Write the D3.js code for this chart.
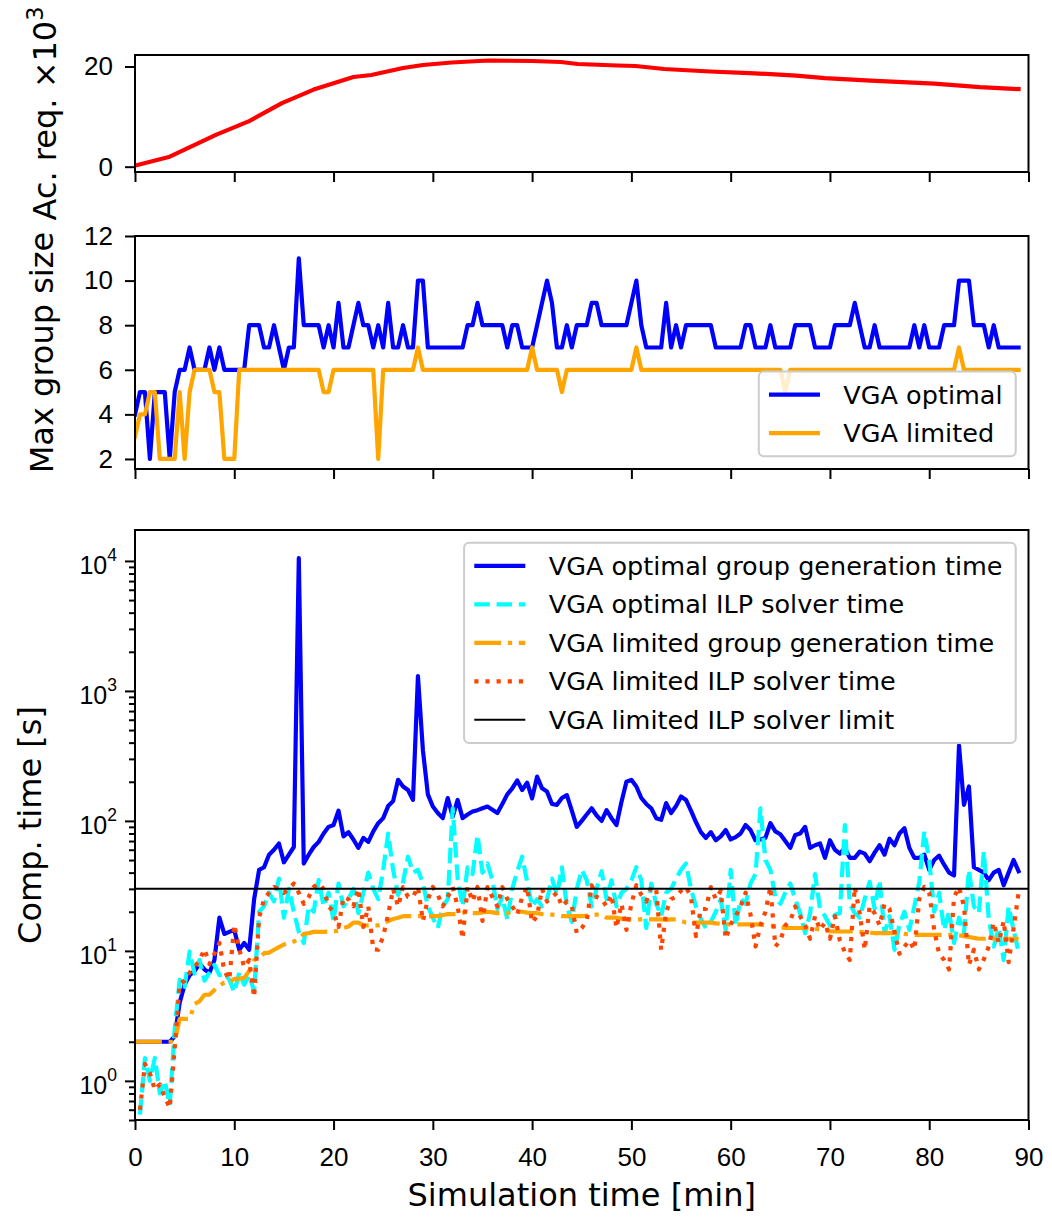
<!DOCTYPE html>
<html>
<head>
<meta charset="utf-8">
<script src="https://cdn.jsdelivr.net/npm/d3@7/dist/d3.min.js"></script>
<style>
    body { margin: 0; background: #fff; }
    svg { font-family: 'DejaVu Sans', sans-serif; }
</style>
</head>
<body>
<div class="chart-container"></div>
<script>
// data, one sample every STEP minutes starting at t = 0
const STEP = 0.5;

// accumulated requests x10^3 (smooth curve, fewer points)
const reqTime = [0, 3.5, 8.2, 11.5, 14.8, 18, 22, 23.8, 27, 29, 31.9, 35.6, 40, 42.9, 44.6,
    48.6, 50.4, 53.3, 57.9, 61.9, 66.6, 69.5, 74.1, 80.5, 85.1, 89];
const reqCount = [0.2, 2.0, 6.4, 9.1, 12.7, 15.4, 17.9, 18.3, 19.7, 20.3, 20.8, 21.2, 21.1, 20.9, 20.5,
    20.2, 20.1, 19.5, 19.0, 18.7, 18.2, 17.7, 17.2, 16.6, 15.9, 15.5];

// max group size
const optimalSize = [
    4, 5, 5, 2, 5, 5, 5, 2, 5, 6,
    6, 7, 6, 6, 6, 7, 6, 7, 6, 6,
    6, 6, 6, 8, 8, 8, 7, 7, 8, 7,
    6, 7, 7, 11, 8, 8, 8, 8, 7, 8,
    7, 9, 7, 7, 8, 9, 8, 8, 7, 8,
    7, 9, 7, 7, 8, 7, 7, 10, 10, 7,
    7, 7, 7, 7, 7, 7, 7, 8, 8, 9,
    8, 8, 8, 8, 8, 7, 8, 8, 7, 7,
    7, 8, 9, 10, 9, 7, 7, 8, 7, 8,
    8, 8, 9, 9, 8, 8, 8, 8, 8, 8,
    9, 10, 8, 7, 7, 7, 7, 9, 7, 8,
    7, 8, 8, 8, 8, 8, 8, 7, 7, 7,
    7, 7, 7, 8, 8, 7, 7, 7, 8, 7,
    7, 7, 7, 8, 8, 8, 8, 7, 7, 7,
    7, 8, 8, 8, 8, 9, 8, 7, 7, 8,
    7, 7, 7, 7, 7, 7, 7, 8, 7, 8,
    7, 7, 7, 8, 8, 8, 10, 10, 10, 8,
    8, 8, 7, 8, 7, 7, 7, 7, 7
];
const limitedSize = [
    3, 4, 4, 5, 5, 2, 2, 2, 2, 5,
    2, 5, 6, 6, 6, 6, 5, 5, 2, 2,
    2, 6, 6, 6, 6, 6, 6, 6, 6, 6,
    6, 6, 6, 6, 6, 6, 6, 6, 5, 5,
    6, 6, 6, 6, 6, 6, 6, 6, 6, 2,
    6, 6, 6, 6, 6, 6, 6, 7, 6, 6,
    6, 6, 6, 6, 6, 6, 6, 6, 6, 6,
    6, 6, 6, 6, 6, 6, 6, 6, 6, 6,
    7, 6, 6, 6, 6, 6, 5, 6, 6, 6,
    6, 6, 6, 6, 6, 6, 6, 6, 6, 6,
    6, 7, 6, 6, 6, 6, 6, 6, 6, 6,
    6, 6, 6, 6, 6, 6, 6, 6, 6, 6,
    6, 6, 6, 6, 6, 6, 6, 6, 6, 6,
    6, 5, 6, 6, 6, 6, 6, 6, 6, 6,
    6, 6, 6, 6, 6, 6, 6, 6, 6, 6,
    6, 6, 6, 6, 6, 6, 6, 6, 6, 6,
    6, 6, 6, 6, 6, 6, 7, 6, 6, 6,
    6, 6, 6, 6, 6, 6, 6, 6, 6
];

// computation times [s]
const optimalGen = [
    2, 2, 2, 2, 2, 2, 2, 2, 2.2, 4.0,
    5.5, 6.5, 7.0, 8.0, 7.2, 6.8, 8.5, 18, 13.5, 14,
    14.5, 10.2, 11.5, 10.2, 25, 42, 44, 55, 60, 67,
    48, 55, 63, 10500, 47, 55, 63, 69, 80, 90,
    93, 120, 76, 82, 72, 62, 74, 69, 83, 96,
    105, 130, 142, 207, 184, 173, 145, 1300, 350, 160,
    129, 115, 105, 150, 108, 145, 105, 112, 118, 121,
    125, 129, 122, 115, 135, 160, 178, 205, 173, 197,
    149, 219, 178, 168, 135, 133, 150, 158, 120, 90,
    100, 112, 125, 110, 100, 121, 105, 93, 140, 200,
    207, 184, 150, 135, 125, 105, 102, 137, 115, 130,
    154, 145, 120, 98, 82, 74, 82, 71, 76, 85,
    72, 75, 80, 93, 85, 71, 72, 74, 96, 83,
    79, 70, 62, 78, 80, 90, 62, 65, 67, 52,
    71, 60, 56, 62, 52, 52, 58, 56, 49, 57,
    65, 55, 73, 65, 80, 88, 62, 52, 52, 55,
    42, 50, 54, 46, 40, 38, 380, 133, 184, 44,
    42, 40, 35, 40, 42, 32, 40, 50, 41
];
const optimalIlp = [
    null, 0.55, 1.5, 1.0, 1.5, 0.8, 1.0, 0.65, 2.5, 6.0,
    5.3, 9.9, 6.7, 8.5, 5.9, 6.8, 7.8, 6.5, 6.7, 6.0,
    4.8, 6.8, 5.5, 6.5, 4.9, 20, 22, 28, 24, 36,
    18, 30, 20, 14, 11.5, 22, 20, 35, 22, 28,
    17, 33, 22, 25, 30, 19.5, 28, 40, 30, 25,
    42, 80, 42, 27, 34, 53, 40, 42, 33, 22,
    18, 15, 22, 25, 125, 36, 22, 44, 39, 78,
    40, 47, 35, 21, 26, 17.5, 30, 41, 53, 34,
    22, 25, 22, 25, 36, 27, 44, 22, 16.7, 30,
    42, 35, 22, 30, 41, 25, 35, 22, 28, 30,
    35, 44, 35, 15, 33, 23, 18.5, 28, 30, 36,
    42, 47, 30, 22, 17.6, 15, 16.7, 20, 25, 14.5,
    42, 15.7, 25, 23, 33, 39, 125, 50, 42, 26,
    23, 28, 33, 25, 19.5, 13.7, 19.5, 39, 21, 18.5,
    15.7, 19, 19.5, 93, 23, 19.5, 18, 25, 34, 21,
    35, 13.7, 18.5, 10.2, 16, 20, 14.5, 22, 34, 83,
    50, 20, 28, 14.5, 20, 11.5, 18, 13.7, 42, 22,
    19.5, 58, 17.5, 10.8, 15, 8.5, 22, 14.5, 9.8
];
const limitedGen = [
    2, 2, 2, 2, 2, 2, 2, 2, 2, 3,
    3, 3, 3.9, 4.1, 4.6, 4.6, 5.0, 5.4, 5.7, 5.7,
    6.1, 6.1, 6.2, 7.0, 8.5, 8.8, 9.6, 9.7, 10.2, 10.7,
    11.2, 11.5, 11.8, 12.4, 13.5, 13.7, 14, 14, 14, 14.1,
    14.1, 14.3, 15, 15.4, 16.5, 16.5, 15.7, 15.7, 15.7, 15.7,
    16, 17, 17.6, 18, 18.5, 18.5, 18.5, 18.5, 18.5, 18.5,
    18.5, 18.5, 18.8, 19.2, 19.2, 19.2, 19.6, 20, 19.5, 19.5,
    19.8, 20, 19.8, 19.5, 19.5, 19.5, 20, 20, 20, 19.7,
    19.5, 19.5, 19.2, 19, 19, 18.8, 18.5, 18.5, 18.5, 18.5,
    18.5, 18.7, 19, 19, 19, 18, 18, 18, 17.7, 17.5,
    17.5, 17.5, 17.5, 17.5, 17.5, 17.5, 17.5, 17.3, 17.5, 17.5,
    17, 16.5, 16.5, 16.5, 16.5, 16.5, 16.5, 16.3, 16.2, 16,
    16, 16, 16, 16, 16, 16, 15.9, 15.8, 15.7, 15.5,
    15.2, 15, 15, 15, 15, 15, 15, 14.8, 14.6, 14.4,
    14.2, 14.1, 14.1, 14.1, 14.1, 14.1, 14, 13.9, 13.8, 13.7,
    13.7, 13.7, 13.7, 13.7, 13.7, 13.5, 13.4, 13.3, 13.3, 13.3,
    13.3, 13.3, 13.3, 13.3, 13.3, 13.3, 13.2, 13, 12.8, 12.6,
    12.4, 12.4, 12.4, 12.4, 12.4, 12.4, 12.4, 12.4, 12.4
];
const limitedIlp = [
    null, 0.6, 1.35, 1.15, 0.85, 0.94, 0.75, 0.62, 1.8, 5.6,
    5.9, 6.8, 7.5, 8.5, 10.3, 7.9, 9.5, 11.5, 7.0, 6.0,
    15.9, 10.3, 7.5, 8.5, 4.4, 18, 25, 28, 31, 30,
    28, 30, 33, 28, 23, 26, 31, 33, 30, 22,
    20, 15.3, 26, 25, 22, 30, 15.3, 22, 10.3, 10.2,
    13, 19, 30, 22, 31, 26, 26, 31, 17, 25,
    31, 27, 22, 26, 31, 22, 12.4, 31, 24, 31,
    17, 31, 26, 22, 31, 25, 22, 19, 26, 31,
    16.5, 18.5, 30, 24, 26, 28, 22, 24, 22, 13.7,
    15, 17, 32, 26, 25, 22, 27, 15, 23, 14.5,
    23, 32, 27, 24, 31, 30, 10.2, 20, 25, 26,
    29, 31, 26, 13, 21, 21, 31, 25, 29, 12.4,
    16, 18.5, 22, 28, 19, 10.8, 15.7, 20, 31, 10.8,
    12, 15.7, 17, 22, 18.5, 15.7, 12.4, 18.5, 14.5, 16.5,
    12.4, 18.5, 12, 9.8, 8.5, 31, 19.5, 10.2, 22, 19.5,
    15.7, 23, 21, 14, 9.5, 10.8, 12, 10.2, 25, 31,
    28, 14.5, 9.5, 8.5, 7.2, 26, 31, 22, 7.8, 10.2,
    7.2, 8.6, 10.8, 16.5, 11.5, 17, 8.2, 15, 28
];
const ilpLimit = 30;

// ticks
const xTicks = [0, 10, 20, 30, 40, 50, 60, 70, 80, 90];
const reqTicks = [0, 20];
const sizeTicks = [2, 4, 6, 8, 10, 12];
const compTicks = [1, 10, 100, 1000, 10000];

// sizes
const TICK_FONT = 26;
const LEG_FONT = 25.5;
const LABEL_FONT = 32;
const LW = 4.2;
const TICK = 10;
const MINOR = 6;
const PAD = 12;

function toPoints(values) {
    return values.map((v, i) => ({ t: i * STEP, v: v }));
}

// scales
const xScale = d3.scaleLinear().domain([0, 90]).range([135, 1028.5]);
const reqScale = d3.scaleLinear().domain([-1.06, 22.3]).range([172, 55]);
const sizeScale = d3.scaleLinear().domain([1.55, 12]).range([469, 236]);
const compScale = d3.scaleLog().domain([0.5, 17300]).range([1120, 530]);

const svg = d3.select('.chart-container')
    .append('svg')
    .attr('width', 1052)
    .attr('height', 1218);

const defs = svg.append('defs');

function panel(name, yScale) {
    const [y1, y0] = yScale.range();
    defs.append('clipPath')
        .attr('id', 'clip-' + name)
        .append('rect')
        .attr('x', xScale.range()[0])
        .attr('y', y0)
        .attr('width', xScale.range()[1] - xScale.range()[0])
        .attr('height', y1 - y0);
    return svg.append('g').attr('class', 'panel ' + name);
}

function styleAxis(g) {
    g.select('.domain').remove();
    g.selectAll('.tick line').attr('stroke', '#000').attr('stroke-width', 2);
    g.selectAll('.tick text').attr('font-size', TICK_FONT).attr('fill', '#000');
}

function drawXAxis(g, yScale, withLabels) {
    const axis = d3.axisBottom(xScale)
        .tickValues(xTicks)
        .tickSizeInner(TICK)
        .tickSizeOuter(0)
        .tickPadding(PAD);
    if (!withLabels) axis.tickFormat('');
    g.append('g')
        .attr('transform', `translate(0, ${yScale.range()[0]})`)
        .call(axis)
        .call(styleAxis)
        .selectAll('.tick text')
        .attr('dy', '0.93em'); // top of the text box sits at tick + pad, like matplotlib
}

function drawYAxis(g, yScale, ticks) {
    g.append('g')
        .attr('transform', `translate(${xScale.range()[0]}, 0)`)
        .call(d3.axisLeft(yScale).tickValues(ticks).tickSizeInner(TICK).tickSizeOuter(0).tickPadding(PAD))
        .call(styleAxis);
}

function drawFrame(g, yScale) {
    const [y1, y0] = yScale.range();
    g.append('rect')
        .attr('x', xScale.range()[0])
        .attr('y', y0)
        .attr('width', xScale.range()[1] - xScale.range()[0])
        .attr('height', y1 - y0)
        .attr('fill', 'none')
        .attr('stroke', '#000')
        .attr('stroke-width', 2);
}

function drawLine(g, name, data, yScale, style) {
    const line = d3.line()
        .defined(d => d.v != null)
        .x(d => xScale(d.t))
        .y(d => yScale(d.v));
    g.append('path')
        .datum(data)
        .attr('clip-path', `url(#clip-${name})`)
        .attr('d', line)
        .attr('fill', 'none')
        .attr('stroke', style.color)
        .attr('stroke-width', style.width || LW)
        .attr('stroke-linejoin', 'round')
        .attr('stroke-linecap', style.dash ? 'butt' : 'square')
        .attr('stroke-dasharray', style.dash || null);
}

function drawYLabel(g, x, yScale, build) {
    const [y1, y0] = yScale.range();
    const text = g.append('text')
        .attr('transform', `translate(${x}, ${(y0 + y1) / 2}) rotate(-90)`)
        .attr('text-anchor', 'middle')
        .attr('dy', '0.35em')
        .attr('font-size', LABEL_FONT);
    build(text);
}

function drawLegend(g, entries, anchor) {
    const rowH = LEG_FONT * 1.01;
    const spacing = LEG_FONT * 0.5;
    const border = LEG_FONT * 0.4;
    const handleLen = LEG_FONT * 2;
    const textPad = LEG_FONT * 0.8;
    const leg = g.append('g').attr('class', 'legend');
    const box = leg.append('rect');
    const rows = leg.append('g');
    entries.forEach((e, i) => {
        const row = rows.append('g').attr('transform', `translate(0, ${i * (rowH + spacing) + rowH / 2})`);
        row.append('line')
            .attr('x1', border)
            .attr('x2', border + handleLen)
            .attr('stroke', e.color)
            .attr('stroke-width', e.width || LW)
            .attr('stroke-dasharray', e.dash || null);
        row.append('text')
            .attr('class', 'legend-text')
            .attr('x', border + handleLen + textPad + 3)
            .attr('dy', '0.35em')
            .attr('font-size', LEG_FONT)
            .text(e.label);
    });
    let textW = 0;
    rows.selectAll('.legend-text').each(function () {
        textW = Math.max(textW, this.getComputedTextLength());
    });
    const w = border * 2 + handleLen + textPad + textW + 6;
    const h = border * 2 + entries.length * rowH + (entries.length - 1) * spacing;
    const x = anchor.right - w;
    const y = anchor.top != null ? anchor.top : anchor.bottom - h;
    rows.attr('transform', `translate(0, ${border})`);
    box.attr('width', w).attr('height', h)
        .attr('rx', 5)
        .attr('fill', '#fff')
        .attr('fill-opacity', 0.8)
        .attr('stroke', '#cccccc')
        .attr('stroke-width', 2);
    leg.attr('transform', `translate(${x}, ${y})`);
}

// top panel: accumulated requests
const reqPanel = panel('req', reqScale);
drawLine(reqPanel, 'req', reqTime.map((t, i) => ({ t: t, v: reqCount[i] })), reqScale, { color: '#ff0000' });
drawXAxis(reqPanel, reqScale, false);
drawYAxis(reqPanel, reqScale, reqTicks);
drawFrame(reqPanel, reqScale);
drawYLabel(reqPanel, 45, reqScale, t => {
    t.append('tspan').text('Ac. req. ×10');
    t.append('tspan').attr('font-size', LABEL_FONT * 0.7).attr('dy', '-0.6em').text('3');
});

// middle panel: max group size
const sizePanel = panel('size', sizeScale);
drawLine(sizePanel, 'size', toPoints(optimalSize), sizeScale, { color: '#0000ff' });
drawLine(sizePanel, 'size', toPoints(limitedSize), sizeScale, { color: '#ffa500' });
drawXAxis(sizePanel, sizeScale, false);
drawYAxis(sizePanel, sizeScale, sizeTicks);
drawFrame(sizePanel, sizeScale);
drawYLabel(sizePanel, 42, sizeScale, t => t.text('Max group size'));
drawLegend(sizePanel, [
    { label: 'VGA optimal', color: '#0000ff' },
    { label: 'VGA limited', color: '#ffa500' }
], { right: 1028.5 - LEG_FONT * 0.5, bottom: 469 - LEG_FONT * 0.5 });

// bottom panel: computation times (log scale)
const compPanel = panel('comp', compScale);
const dashed = [3.7 * LW, 1.6 * LW].join(',');
const dashdot = [6.4 * LW, 1.6 * LW, 1 * LW, 1.6 * LW].join(',');
const dotted = [1 * LW, 1.65 * LW].join(',');

drawLine(compPanel, 'comp', toPoints(optimalGen), compScale, { color: '#0000ff' });
drawLine(compPanel, 'comp', toPoints(optimalIlp), compScale, { color: '#00ffff', dash: dashed });
drawLine(compPanel, 'comp', toPoints(limitedGen), compScale, { color: '#ffa500', dash: dashdot });
drawLine(compPanel, 'comp', toPoints(limitedIlp), compScale, { color: '#ff4500', dash: dotted });

compPanel.append('line')
    .attr('x1', xScale.range()[0])
    .attr('x2', xScale.range()[1])
    .attr('y1', compScale(ilpLimit))
    .attr('y2', compScale(ilpLimit))
    .attr('stroke', '#000')
    .attr('stroke-width', 2);

drawXAxis(compPanel, compScale, true);

// log axis: major ticks with 10^n labels, plus minor ticks
const minorTicks = compScale.ticks().filter(d => !compTicks.includes(d));
compPanel.append('g')
    .attr('transform', `translate(${xScale.range()[0]}, 0)`)
    .call(d3.axisLeft(compScale).tickValues(minorTicks).tickSizeInner(MINOR).tickSizeOuter(0).tickFormat(''))
    .call(styleAxis);
const yMajor = compPanel.append('g')
    .attr('transform', `translate(${xScale.range()[0]}, 0)`)
    .call(d3.axisLeft(compScale).tickValues(compTicks).tickSizeInner(TICK).tickSizeOuter(0).tickFormat(''))
    .call(styleAxis);
yMajor.selectAll('.tick').each(function (d) {
    const text = d3.select(this).append('text')
        .attr('x', -(TICK + PAD) + 4)
        .attr('text-anchor', 'end')
        .attr('font-size', 25)
        .attr('fill', '#000');
    text.append('tspan').attr('dy', '0.5em').text('10');
    text.append('tspan').attr('font-size', 25 * 0.7).attr('dy', '-0.75em').text(Math.round(Math.log10(d)));
});

drawFrame(compPanel, compScale);
drawYLabel(compPanel, 30, compScale, t => t.text('Comp. time [s]'));

compPanel.append('text')
    .attr('x', (xScale.range()[0] + xScale.range()[1]) / 2)
    .attr('y', 1206)
    .attr('text-anchor', 'middle')
    .attr('font-size', LABEL_FONT)
    .text('Simulation time [min]');

drawLegend(compPanel, [
    { label: 'VGA optimal group generation time', color: '#0000ff' },
    { label: 'VGA optimal ILP solver time', color: '#00ffff', dash: dashed },
    { label: 'VGA limited group generation time', color: '#ffa500', dash: dashdot },
    { label: 'VGA limited ILP solver time', color: '#ff4500', dash: dotted },
    { label: 'VGA limited ILP solver limit', color: '#000', width: 2 }
], { right: 1028.5 - LEG_FONT * 0.5, top: 530 + LEG_FONT * 0.5 });
</script>
</body>
</html>
